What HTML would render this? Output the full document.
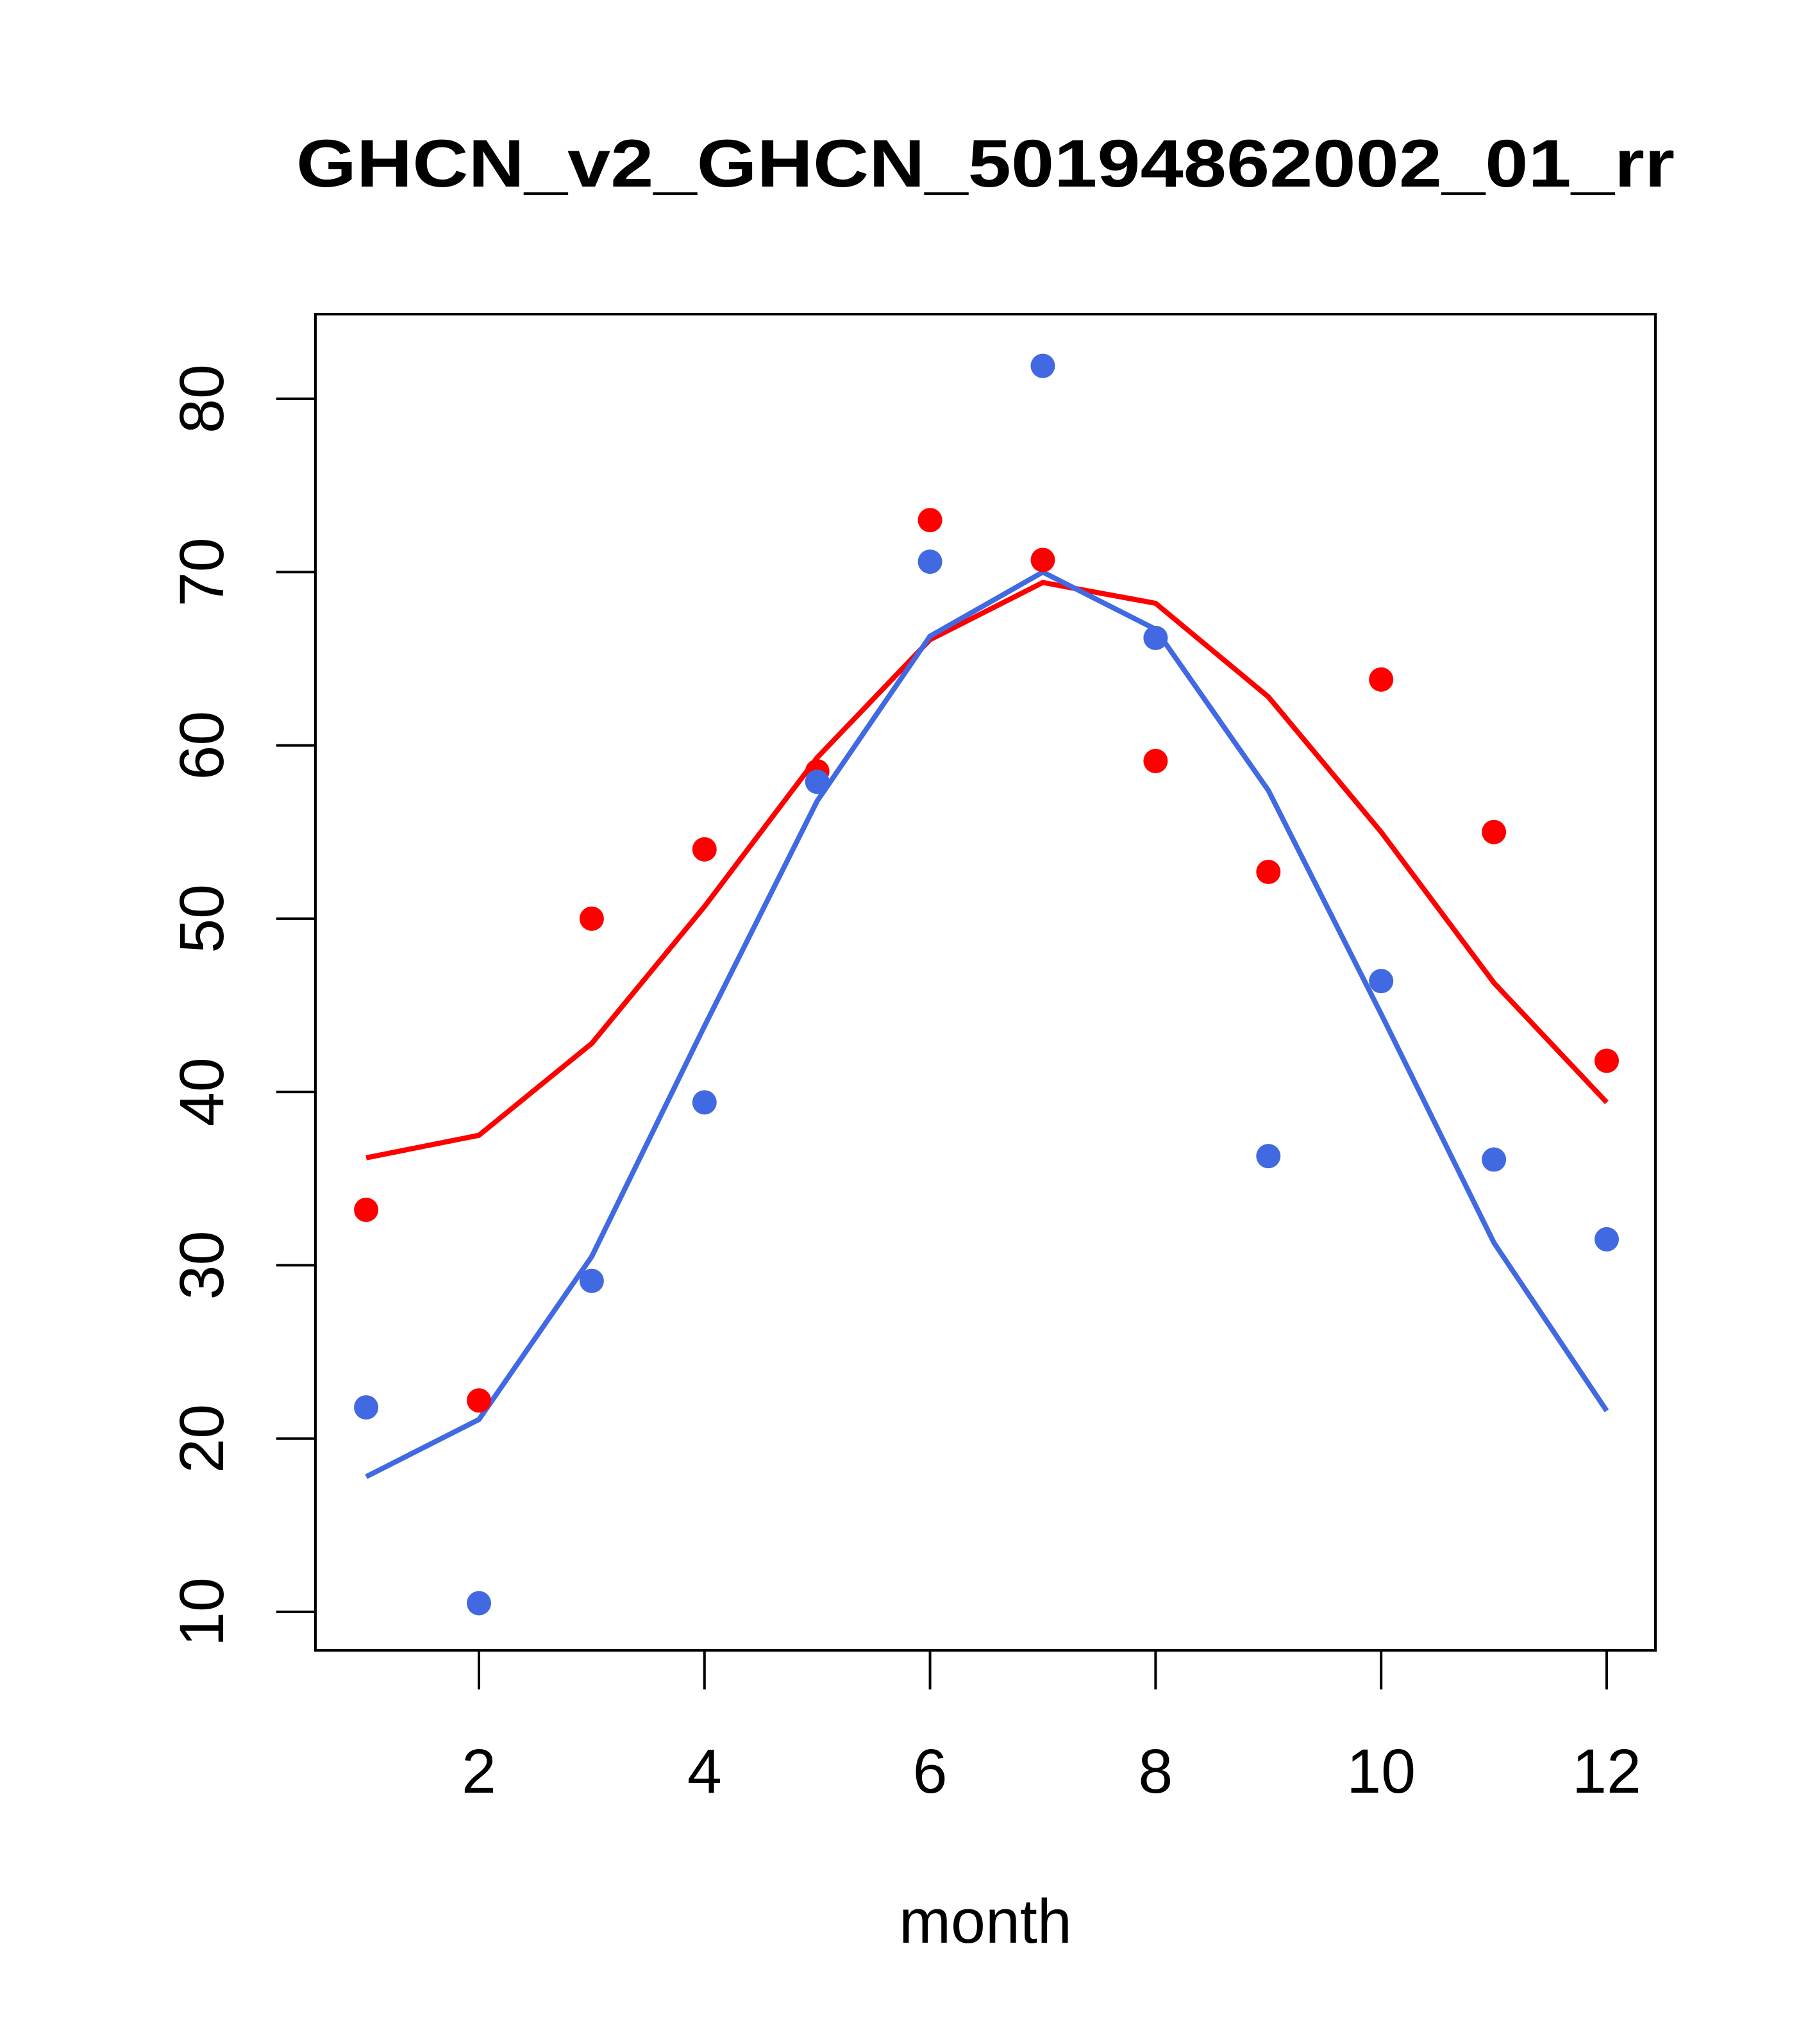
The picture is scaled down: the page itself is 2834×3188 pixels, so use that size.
<!DOCTYPE html>
<html><head><meta charset="utf-8"><style>
html,body{margin:0;padding:0;background:#fff;}
svg{display:block;}
text{font-family:"Liberation Sans",Arial,sans-serif;fill:#000;}
</style></head><body>
<svg id="chart" width="2834" height="3188" viewBox="0 0 2834 3188" xmlns="http://www.w3.org/2000/svg">
<rect width="2834" height="3188" fill="#fff"/>
<text x="1537" y="291" text-anchor="middle" font-size="105" font-weight="bold" textLength="2150" lengthAdjust="spacingAndGlyphs">GHCN_v2_GHCN_50194862002_01_rr</text>
<rect x="492" y="490" width="2090" height="2084" fill="none" stroke="#000" stroke-width="4"/>
<text x="1537" y="3030" text-anchor="middle" font-size="97">month</text>
<g id="axes"></g>
<g id="series"></g>
</svg>
<script>
const months = [1,2,3,4,5,6,7,8,9,10,11,12];
const redPoints = [33.2,22.2,50,54,58.5,73,70.7,59.1,52.7,63.8,55,41.8];
const redLine = [36.2,37.5,42.8,50.7,59.3,66.1,69.4,68.2,62.8,55,46.3,39.4];
const bluePoints = [21.8,10.5,29.1,39.4,57.9,70.6,81.9,66.2,36.3,46.4,36.1,31.5];
const blueLine = [17.8,21.1,30.5,43.8,56.8,66.3,70,66.7,57.4,44.5,31.3,21.6];
const xTicks = [2,4,6,8,10,12];
const yTicks = [10,20,30,40,50,60,70,80];

const NS = "http://www.w3.org/2000/svg";
function xs(m){ return 747 + (m-2)*(2506-747)/10; }
function ys(v){ return 2514 - (v-10)*(2514-622)/70; }
function mk(tag, attrs, parent){
  const e = document.createElementNS(NS, tag);
  for (const k in attrs) e.setAttribute(k, attrs[k]);
  parent.appendChild(e);
  return e;
}
const axes = document.getElementById('axes');
const series = document.getElementById('series');

mk('line',{x1:xs(2),x2:xs(12),y1:2574,y2:2574,stroke:'#000','stroke-width':4},axes);
xTicks.forEach(t=>{
  const l = mk('line',{x1:xs(t),x2:xs(t),y1:2574,y2:2635,stroke:'#000','stroke-width':4},axes);
  
  
  const tx = mk('text',{x:xs(t),y:2796,'text-anchor':'middle','font-size':97},axes);
  tx.textContent = t;
  
  
});
mk('line',{x1:492,x2:492,y1:ys(10),y2:ys(80),stroke:'#000','stroke-width':4},axes);
yTicks.forEach(t=>{
  const l = mk('line',{x1:431,x2:492,y1:ys(t),y2:ys(t),stroke:'#000','stroke-width':4},axes);
  
  
  const tx = mk('text',{x:0,y:0,'text-anchor':'middle','font-size':97,transform:`translate(348,${ys(t)}) rotate(-90)`},axes);
  tx.textContent = t;
  
  
});

function drawLine(vals, color, name){
  const p = mk('polyline',{points:vals.map((v,i)=>xs(months[i])+','+ys(v)).join(' '),fill:'none',stroke:color,'stroke-width':8},series);
  
  
}
function drawPts(vals, color, name){
  vals.forEach((v,i)=>{
    const c = mk('circle',{cx:xs(months[i]),cy:ys(v),r:19,fill:color},series);
    
    
  });
}
drawLine(redLine,'#ff0000','red-fit-line');
drawLine(blueLine,'#4169e1','blue-fit-line');
drawPts(redPoints,'#ff0000','red-point');
drawPts(bluePoints,'#4169e1','blue-point');
</script>
</body></html>
